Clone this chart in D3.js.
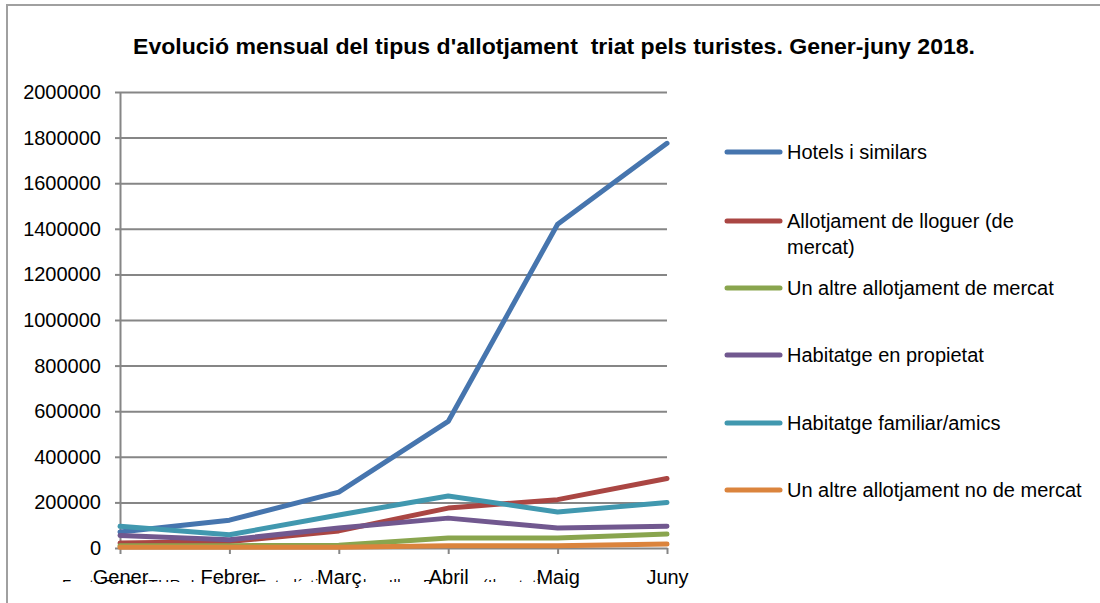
<!DOCTYPE html>
<html lang="ca">
<head>
    <meta charset="UTF-8">
    <title>Evolució mensual del tipus d'allotjament</title>
    <script src="https://cdnjs.cloudflare.com/ajax/libs/d3/7.8.5/d3.min.js"></script>
    <style>
        body {
            margin: 0;
            background: #fff;
            font-family: "Liberation Sans", Arial, sans-serif;
        }
        svg text {
            fill: #000;
        }
    </style>
</head>
<body>
    <div id="chart"></div>

    <script>
        // data
        const months = ["Gener", "Febrer", "Març", "Abril", "Maig", "Juny"];
        const seriesNames = [
            "Hotels i similars",
            "Allotjament de lloguer (de mercat)",
            "Un altre allotjament de mercat",
            "Habitatge en propietat",
            "Habitatge familiar/amics",
            "Un altre allotjament no de mercat"
        ];
        const hotels = [70000, 122000, 245000, 555000, 1420000, 1775000];
        const lloguer = [22000, 28000, 75000, 175000, 212000, 305000];
        const altreMercat = [10000, 10000, 12000, 44000, 44000, 61000];
        const propietat = [55000, 36000, 88000, 131000, 88000, 95000];
        const familiar = [95000, 58000, 145000, 228000, 158000, 200000];
        const altreNoMercat = [3000, 3000, 3000, 10000, 10000, 17000];
        const yTicks = [0, 200000, 400000, 600000, 800000, 1000000, 1200000, 1400000, 1600000, 1800000, 2000000];
        const colors = ["#4675AE", "#AA4643", "#89A54E", "#71588F", "#4198AF", "#DB843D"];

        const allSeries = [hotels, lloguer, altreMercat, propietat, familiar, altreNoMercat];

        const config = {
            width: 1100,
            height: 603,
            plot: { left: 120, right: 667, top: 92, bottom: 548 }
        };

        const svg = d3.select("#chart")
            .append("svg")
            .attr("width", config.width)
            .attr("height", config.height);

        // chart frame (only top and left edges show)
        svg.append("path")
            .attr("d", `M7,${config.height} V5 H${config.width}`)
            .attr("fill", "none")
            .attr("stroke", "#a0a0a0")
            .attr("stroke-width", 2);

        svg.append("text")
            .attr("x", 554)
            .attr("y", 54)
            .attr("text-anchor", "middle")
            .attr("font-size", 22)
            .attr("font-weight", "bold")
            .attr("textLength", 842)
            .attr("lengthAdjust", "spacingAndGlyphs")
            .style("white-space", "pre")
            .text("Evolució mensual del tipus d'allotjament  triat pels turistes. Gener-juny 2018.");

        const x = d3.scalePoint()
            .domain(months)
            .range([config.plot.left, config.plot.right]);

        const y = d3.scaleLinear()
            .domain([0, 2000000])
            .range([config.plot.bottom, config.plot.top]);

        // gridlines
        svg.append("g")
            .attr("transform", `translate(${config.plot.left},0)`)
            .call(d3.axisLeft(y).tickValues(yTicks.slice(1)).tickSize(-(config.plot.right - config.plot.left)).tickFormat(""))
            .call(g => g.select(".domain").remove())
            .call(g => g.selectAll(".tick line").attr("stroke", "#868686").attr("stroke-width", 2));

        // y axis
        svg.append("g")
            .attr("transform", `translate(${config.plot.left},0)`)
            .call(d3.axisLeft(y).tickValues(yTicks).tickSize(5).tickSizeOuter(0).tickPadding(14).tickFormat(d3.format("d")))
            .call(g => g.select(".domain").attr("stroke", "#868686").attr("stroke-width", 2))
            .call(g => g.selectAll(".tick line").attr("stroke", "#868686").attr("stroke-width", 2))
            .call(g => g.selectAll(".tick text").attr("font-size", 20).attr("font-family", "Liberation Sans, Arial, sans-serif"));

        // source note, mostly hidden under the category labels (only a thin strip shows)
        svg.append("clipPath")
            .attr("id", "srcClip")
            .append("rect")
            .attr("x", 40).attr("y", 577).attr("width", 620).attr("height", 5);

        svg.append("text")
            .attr("clip-path", "url(#srcClip)")
            .attr("x", 62)
            .attr("y", 590)
            .attr("font-size", 15)
            .attr("textLength", 480)
            .text("Font: FRONTUR. Institut d'Estadística de les Illes Balears (Ibestat)");

        // x axis
        svg.append("g")
            .attr("transform", `translate(0,${config.plot.bottom})`)
            .call(d3.axisBottom(x).tickSize(6).tickSizeOuter(0).tickPadding(16))
            .call(g => g.select(".domain").attr("stroke", "#868686").attr("stroke-width", 2))
            .call(g => g.selectAll(".tick line").attr("stroke", "#868686").attr("stroke-width", 2))
            .call(g => g.selectAll(".tick text").attr("font-size", 20).attr("font-family", "Liberation Sans, Arial, sans-serif"));

        const line = d3.line()
            .x((d, i) => x(months[i]))
            .y(d => y(d));

        svg.append("g")
            .selectAll("path")
            .data(allSeries)
            .join("path")
            .attr("fill", "none")
            .attr("stroke", (d, i) => colors[i])
            .attr("stroke-width", 5)
            .attr("stroke-linecap", "round")
            .attr("stroke-linejoin", "round")
            .attr("d", line);

        // legend
        const legendY = [152, 221, 288, 355, 423, 490];
        const legend = svg.append("g")
            .selectAll("g")
            .data(seriesNames)
            .join("g")
            .attr("transform", (d, i) => `translate(727,${legendY[i]})`);

        legend.append("line")
            .attr("x1", 0).attr("x2", 53)
            .attr("stroke", (d, i) => colors[i])
            .attr("stroke-width", 5)
            .attr("stroke-linecap", "round");

        legend.append("text")
            .attr("x", 60)
            .attr("y", 7)
            .attr("font-size", 20)
            .each(function (d) {
                const t = d3.select(this);
                if (d.length > 30 && d.includes("(de ")) {
                    t.append("tspan").attr("x", 60).text("Allotjament de lloguer (de");
                    t.append("tspan").attr("x", 60).attr("dy", 26).text("mercat)");
                } else {
                    t.text(d);
                }
            });
    </script>
</body>
</html>
